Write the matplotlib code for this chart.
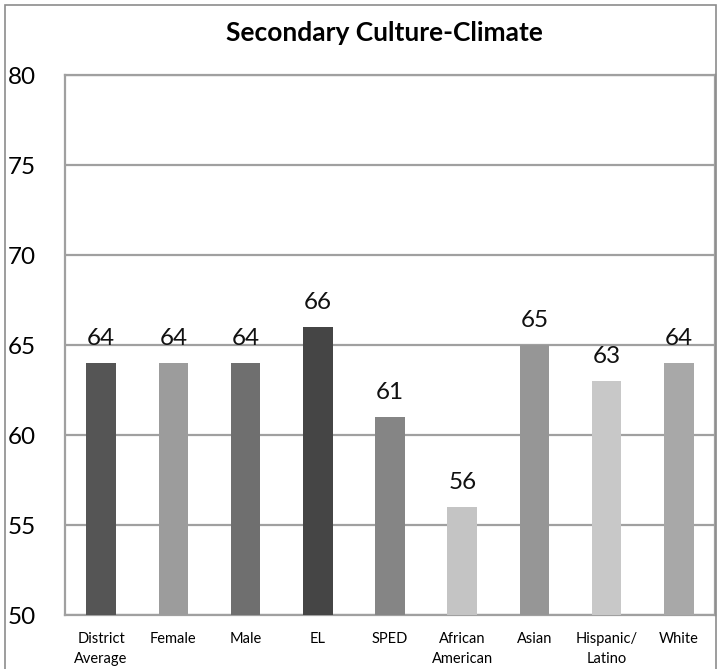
import matplotlib.pyplot as plt
from matplotlib.patches import Rectangle

groups = ["District\nAverage", "Female", "Male", "EL", "SPED",
          "African\nAmerican", "Asian", "Hispanic/\nLatino", "White"]
scores = [64, 64, 64, 66, 61, 56, 65, 63, 64]
bar_colors = ["#555555", "#9c9c9c", "#6f6f6f", "#454545", "#858585",
              "#c4c4c4", "#969696", "#c8c8c8", "#a8a8a8"]
y_ticks = [50, 55, 60, 65, 70, 75, 80]

plt.rcParams['font.family'] = ['Lato', 'DejaVu Sans']

W, H = 721, 669
fig = plt.figure(figsize=(W / 100, H / 100), dpi=100)
ax = fig.add_axes([65 / W, (H - 615) / H, (715 - 65) / W, (615 - 75) / H])

x = list(range(len(groups)))
ax.bar(x, scores, width=0.41, color=bar_colors, zorder=3)
for xi, v in zip(x, scores):
    ax.annotate(str(v), (xi, v), xytext=(0, 13), textcoords="offset points",
                ha="center", va="baseline", fontsize=17.5, color="#111111")

ax.set_xlim(-0.5, len(groups) - 0.5)
ax.set_ylim(50, 80)
ax.set_yticks(y_ticks)
ax.set_yticklabels([str(t) for t in y_ticks], fontsize=17.5, ha="left")
ax.tick_params(axis="y", length=0, pad=41)
ax.set_xticks(x)
ax.set_xticklabels(groups, fontsize=10.5, linespacing=1.55, va="top")
ax.tick_params(axis="x", length=0, pad=12)
ax.yaxis.grid(True, color="#a0a0a0", linewidth=1.6, zorder=0)
for s in ax.spines.values():
    s.set_color("#a0a0a0")
    s.set_linewidth(1.6)

fig.text(384 / W, 1 - 33 / H, "Secondary Culture-Climate", ha="center",
         va="center", fontsize=19, fontweight="bold")

# thin frame around the whole chart
fig.patches.append(Rectangle((5 / W, -0.1), (716 - 5) / W, 1.1 - 5 / H,
                             transform=fig.transFigure, fill=False,
                             edgecolor="#8c8c8c", linewidth=1.2))

fig.savefig("out.png", dpi=100)
